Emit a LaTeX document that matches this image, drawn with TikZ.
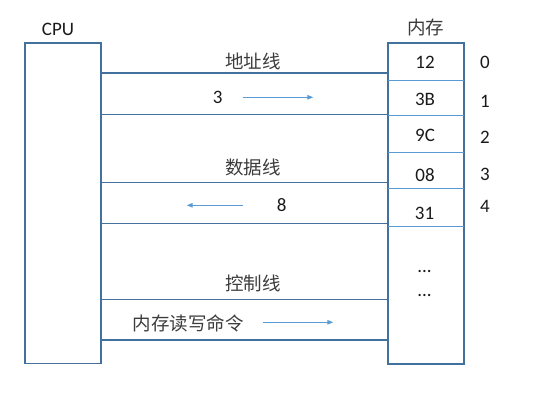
\documentclass[tikz,border=0pt]{standalone}
\usepackage{fontspec}
\setmainfont{Carlito}
\newfontfamily\cjk{Noto Sans CJK SC}
\usetikzlibrary{arrows.meta}
\definecolor{boxblue}{HTML}{41719C}
\definecolor{lightblue}{HTML}{5B9BD5}
\definecolor{txt}{HTML}{1A1A1A}
\tikzset{
  unitbox/.style={draw=boxblue, line width=1.2pt, inner sep=0pt, anchor=north west},
  busline/.style={draw=boxblue, line width=1.2pt},
  divline/.style={draw=lightblue, line width=1.2pt},
  flow/.style={draw=lightblue, line width=1pt, -{Triangle[length=6pt,width=4.5pt]}},
  lab/.style={text=txt, inner sep=0pt, font=\fontsize{19}{22}\selectfont},
  cjklab/.style={text=txt!85, inner sep=0pt, font=\fontsize{18.5}{22}\selectfont\cjk},
}
\begin{document}
\begin{tikzpicture}[x=1pt,y=-1pt]
\useasboundingbox (0,0) rectangle (541,402);
% units
\node[unitbox, minimum width=76pt, minimum height=320.7pt] (cpu) at (24.3,42.3) {};
\node[lab] (cpulab) at (58,29) {CPU};
\node[unitbox, minimum width=75.6pt, minimum height=320.7pt] (mem) at (387.7,42.3) {};
\node[cjklab] (memlab) at (425.7,27) {内存};
% memory cell dividers
\coordinate (d1) at (0,80.3);
\coordinate (d2) at (0,115.5);
\coordinate (d3) at (0,152.3);
\coordinate (d4) at (0,188.3);
\coordinate (d5) at (0,226.3);
\foreach \d in {d1,d2,d3,d4,d5}{
  \draw[divline] (mem.west |- \d) -- (mem.east |- \d);
}
\draw[draw=boxblue, line width=1.2pt] (mem.north west) rectangle (mem.south east);
% memory contents
\node[lab] (c0) at (425,62) {12};
\node[lab] (c1) at (425,99.5) {3B};
\node[lab] (c2) at (425,135.7) {9C};
\node[lab] (c3) at (425,175) {08};
\node[lab] (c4) at (424.5,213) {31};
\node[lab] (c5) at (424.5,271) {...};
\node[lab] (c6) at (424.5,295) {...};
% addresses
\node[lab] (a0) at (485,62) {0};
\node[lab] (a1) at (485,101) {1};
\node[lab] (a2) at (485,137) {2};
\node[lab] (a3) at (485,174) {3};
\node[lab] (a4) at (485,206) {4};
% buses
\foreach \y in {73,114.3,182.3,223.3,299.3,340}{
  \draw[busline] (cpu.east |- 0,\y) -- (mem.west |- 0,\y);
}
\node[cjklab] (addr) at (253,61) {地址线};
\node[cjklab] (data) at (253,167) {数据线};
\node[cjklab] (ctrl) at (253,283.5) {控制线};
\node[lab] (v3) at (217.7,97) {3};
\node[lab] (v8) at (281.7,205) {8};
\node[cjklab] (cmd) at (188.3,323) {内存读写命令};
% flow arrows
\coordinate (f1s) at (243.3,97.3);
\coordinate (f1e) at (313.3,97.3);
\coordinate (f2s) at (243.3,205.3);
\coordinate (f2e) at (186.7,205.3);
\coordinate (f3s) at (263.3,322.3);
\coordinate (f3e) at (333.3,322.3);
\draw[flow] (f1s) -- (f1e);
\draw[flow] (f2s) -- (f2e);
\draw[flow] (f3s) -- (f3e);
\end{tikzpicture}
\end{document}
